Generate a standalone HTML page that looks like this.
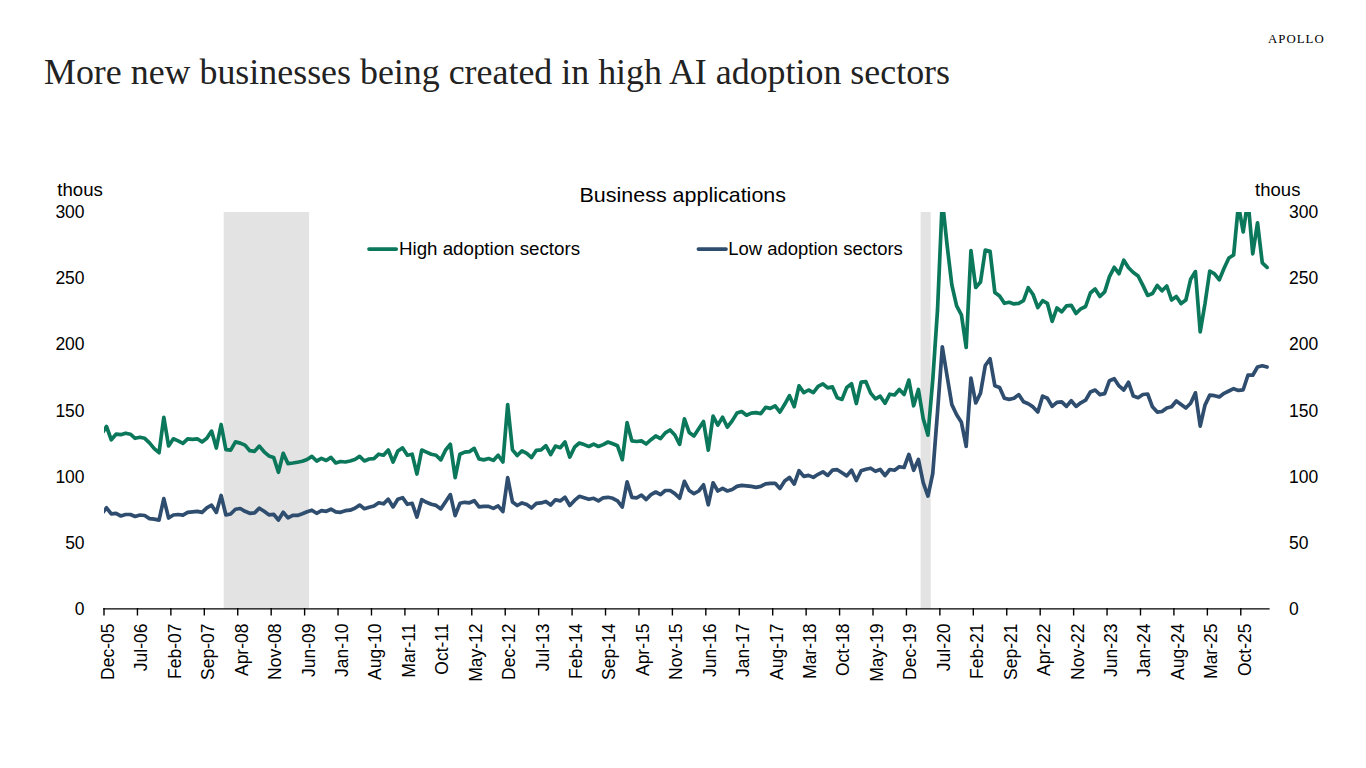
<!DOCTYPE html>
<html><head><meta charset="utf-8"><style>
html,body{margin:0;padding:0;background:#fff;width:1366px;height:768px;overflow:hidden}
svg{display:block}
.s{font-family:"Liberation Sans",sans-serif;fill:#000}
.t{font-family:"Liberation Serif",serif;fill:#000}
</style></head><body>
<svg width="1366" height="768" viewBox="0 0 1366 768">
<defs><clipPath id="c"><rect x="104" y="212" width="1166" height="397"/></clipPath></defs>
<text class="t" x="44" y="83.5" font-size="35" style="fill:#222" textLength="906" lengthAdjust="spacingAndGlyphs">More new businesses being created in high AI adoption sectors</text>
<text class="t" x="1268" y="42.7" font-size="12.8" fill="#222" textLength="55.7" lengthAdjust="spacing">APOLLO</text>
<rect x="223.7" y="212" width="85.4" height="397" fill="#e3e3e3"/>
<rect x="920.6" y="212" width="10.1" height="397" fill="#e3e3e3"/>
<g class="s" font-size="21"><text x="579.5" y="201.9" textLength="206.5" lengthAdjust="spacingAndGlyphs">Business applications</text></g>
<g class="s" font-size="17.5">
<text x="57.3" y="196.2" textLength="45.6" lengthAdjust="spacingAndGlyphs">thous</text>
<text x="1255.1" y="196.2" textLength="45.3" lengthAdjust="spacingAndGlyphs">thous</text>
<text x="399" y="255" textLength="181" lengthAdjust="spacingAndGlyphs">High adoption sectors</text>
<text x="728.3" y="255" textLength="174.5" lengthAdjust="spacingAndGlyphs">Low adoption sectors</text>
<g text-anchor="end"><text x="84.6" y="615.2">0</text><text x="84.6" y="549.0">50</text><text x="84.6" y="482.8">100</text><text x="84.6" y="416.6">150</text><text x="84.6" y="350.4">200</text><text x="84.6" y="284.2">250</text><text x="84.6" y="217.9">300</text></g>
<text x="1289" y="615.2">0</text><text x="1289" y="549.0">50</text><text x="1289" y="482.8">100</text><text x="1289" y="416.6">150</text><text x="1289" y="350.4">200</text><text x="1289" y="284.2">250</text><text x="1289" y="217.9">300</text>
<g text-anchor="end"><text transform="translate(113.90,623.5) rotate(-90)">Dec-05</text><text transform="translate(147.34,623.5) rotate(-90)">Jul-06</text><text transform="translate(180.77,623.5) rotate(-90)">Feb-07</text><text transform="translate(214.21,623.5) rotate(-90)">Sep-07</text><text transform="translate(247.64,623.5) rotate(-90)">Apr-08</text><text transform="translate(281.07,623.5) rotate(-90)">Nov-08</text><text transform="translate(314.51,623.5) rotate(-90)">Jun-09</text><text transform="translate(347.94,623.5) rotate(-90)">Jan-10</text><text transform="translate(381.38,623.5) rotate(-90)">Aug-10</text><text transform="translate(414.81,623.5) rotate(-90)">Mar-11</text><text transform="translate(448.25,623.5) rotate(-90)">Oct-11</text><text transform="translate(481.69,623.5) rotate(-90)">May-12</text><text transform="translate(515.12,623.5) rotate(-90)">Dec-12</text><text transform="translate(548.55,623.5) rotate(-90)">Jul-13</text><text transform="translate(581.99,623.5) rotate(-90)">Feb-14</text><text transform="translate(615.43,623.5) rotate(-90)">Sep-14</text><text transform="translate(648.86,623.5) rotate(-90)">Apr-15</text><text transform="translate(682.29,623.5) rotate(-90)">Nov-15</text><text transform="translate(715.73,623.5) rotate(-90)">Jun-16</text><text transform="translate(749.17,623.5) rotate(-90)">Jan-17</text><text transform="translate(782.60,623.5) rotate(-90)">Aug-17</text><text transform="translate(816.03,623.5) rotate(-90)">Mar-18</text><text transform="translate(849.47,623.5) rotate(-90)">Oct-18</text><text transform="translate(882.91,623.5) rotate(-90)">May-19</text><text transform="translate(916.34,623.5) rotate(-90)">Dec-19</text><text transform="translate(949.77,623.5) rotate(-90)">Jul-20</text><text transform="translate(983.21,623.5) rotate(-90)">Feb-21</text><text transform="translate(1016.65,623.5) rotate(-90)">Sep-21</text><text transform="translate(1050.08,623.5) rotate(-90)">Apr-22</text><text transform="translate(1083.52,623.5) rotate(-90)">Nov-22</text><text transform="translate(1116.95,623.5) rotate(-90)">Jun-23</text><text transform="translate(1150.39,623.5) rotate(-90)">Jan-24</text><text transform="translate(1183.82,623.5) rotate(-90)">Aug-24</text><text transform="translate(1217.26,623.5) rotate(-90)">Mar-25</text><text transform="translate(1250.69,623.5) rotate(-90)">Oct-25</text></g>
</g>
<line x1="369" y1="249.1" x2="396.2" y2="249.1" stroke="#0b785b" stroke-width="3.7" stroke-linecap="round"/>
<line x1="698.4" y1="249.1" x2="726" y2="249.1" stroke="#2f4d6e" stroke-width="3.7" stroke-linecap="round"/>
<g clip-path="url(#c)" fill="none" stroke-width="3.7" stroke-linejoin="round" stroke-linecap="round">
<polyline stroke="#2f4d6e" points="101.72,514.0 106.50,507.8 111.28,513.9 116.05,513.4 120.83,516.0 125.60,514.5 130.38,514.5 135.16,516.5 139.93,515.0 144.71,515.5 149.48,518.6 154.26,519.1 159.04,520.1 163.81,498.6 168.59,518.0 173.36,515.0 178.14,514.5 182.92,515.2 187.69,512.4 192.47,511.9 197.24,511.4 202.02,512.4 206.80,507.8 211.57,505.2 216.35,512.4 221.12,495.5 225.90,515.0 230.68,514.0 235.45,509.3 240.23,508.5 245.00,511.3 249.78,513.3 254.56,512.8 259.33,508.2 264.11,511.3 268.88,514.8 273.66,514.3 278.44,520.0 283.21,512.3 287.99,517.9 292.76,515.4 297.54,515.4 302.32,513.8 307.09,511.8 311.87,510.2 316.64,513.3 321.42,510.7 326.20,511.3 330.97,509.2 335.75,511.8 340.52,512.3 345.30,510.7 350.08,510.2 354.85,508.2 359.63,505.1 364.40,508.7 369.18,507.2 373.96,506.0 378.73,502.8 383.51,503.8 388.28,499.2 393.06,506.9 397.84,499.2 402.61,497.7 407.39,504.3 412.16,503.3 416.94,517.1 421.72,499.7 426.49,502.3 431.27,504.3 436.04,505.4 440.82,508.9 445.60,501.8 450.37,494.6 455.15,515.6 459.92,503.3 464.70,502.3 469.48,502.8 474.25,500.7 479.03,506.9 483.80,506.4 488.58,506.4 493.36,508.4 498.13,505.9 502.91,511.5 507.68,477.7 512.46,502.0 517.24,505.5 522.01,502.9 526.79,504.5 531.56,508.0 536.34,503.4 541.12,502.9 545.89,501.4 550.67,505.0 555.44,499.8 560.22,500.9 565.00,497.3 569.77,505.5 574.55,500.4 579.32,496.3 584.10,497.8 588.88,499.3 593.65,498.3 598.43,500.9 603.20,497.8 607.98,497.3 612.76,498.3 617.53,500.9 622.31,507.0 627.08,481.9 631.86,497.3 636.64,497.8 641.41,495.2 646.19,499.5 650.96,494.6 655.74,492.0 660.52,494.6 665.29,490.5 670.07,490.5 674.84,493.6 679.62,498.2 684.40,481.3 689.17,490.5 693.95,493.6 698.72,491.0 703.50,484.8 708.28,504.8 713.05,482.8 717.83,491.0 722.60,488.4 727.38,491.0 732.16,489.5 736.93,486.4 741.71,485.4 746.48,485.9 751.26,486.4 756.04,487.4 760.81,486.4 765.59,483.8 770.36,483.3 775.14,483.3 779.92,488.5 784.69,481.0 789.47,477.4 794.24,484.1 799.02,470.7 803.80,476.4 808.57,475.4 813.35,477.4 818.12,474.3 822.90,471.8 827.68,475.4 832.45,470.2 837.23,469.7 842.00,472.8 846.78,475.9 851.56,470.2 856.33,480.5 861.11,470.7 865.88,469.2 870.66,468.2 875.44,471.3 880.21,469.5 884.99,475.5 889.76,469.5 894.54,470.3 899.32,466.7 904.09,467.5 908.87,454.4 913.64,470.3 918.42,459.4 923.20,482.6 927.97,496.1 932.75,473.5 937.52,412.0 942.30,346.8 947.08,376.0 951.85,404.6 956.63,414.7 961.40,422.3 966.18,446.3 970.96,378.0 975.73,403.0 980.51,393.1 985.28,365.5 990.06,358.8 994.84,385.8 999.61,387.4 1004.39,398.3 1009.16,399.4 1013.94,398.3 1018.72,394.6 1023.49,401.8 1028.27,403.8 1033.04,406.9 1037.82,412.0 1042.60,396.1 1047.37,398.2 1052.15,406.4 1056.92,402.3 1061.70,401.8 1066.48,406.4 1071.25,400.7 1076.03,406.4 1080.80,402.8 1085.58,400.2 1090.36,392.0 1095.13,390.0 1099.91,394.6 1104.68,393.6 1109.46,380.7 1114.24,378.7 1119.01,385.9 1123.79,390.0 1128.56,382.3 1133.34,396.1 1138.12,397.7 1142.89,394.5 1147.67,394.0 1152.44,406.8 1157.22,412.1 1162.00,411.5 1166.77,408.0 1171.55,406.8 1176.32,401.0 1181.10,404.5 1185.88,408.0 1190.65,403.3 1195.43,392.8 1200.20,426.1 1204.98,405.1 1209.76,395.1 1214.53,395.7 1219.31,396.9 1224.08,393.3 1228.86,391.0 1233.64,388.7 1238.41,390.4 1243.19,389.8 1247.96,375.2 1252.74,375.2 1257.52,367.0 1262.29,365.8 1267.07,367.0"/>
<polyline stroke="#0b785b" points="101.72,434.0 106.50,426.5 111.28,439.8 116.05,434.2 120.83,434.7 125.60,433.2 130.38,434.2 135.16,438.3 139.93,437.3 144.71,438.3 149.48,442.9 154.26,448.6 159.04,452.7 163.81,417.3 168.59,446.0 173.36,438.8 178.14,440.9 182.92,443.4 187.69,438.8 192.47,439.3 197.24,438.8 202.02,441.9 206.80,438.3 211.57,431.1 216.35,448.0 221.12,424.5 225.90,449.6 230.68,450.1 235.45,441.9 240.23,443.1 245.00,445.1 249.78,450.7 254.56,451.3 259.33,446.1 264.11,451.8 268.88,455.9 273.66,457.4 278.44,472.3 283.21,453.3 287.99,463.6 292.76,463.0 297.54,462.2 302.32,461.3 307.09,459.5 311.87,456.4 316.64,461.0 321.42,458.4 326.20,460.5 330.97,457.4 335.75,463.0 340.52,461.5 345.30,462.0 350.08,461.0 354.85,459.5 359.63,456.4 364.40,461.0 369.18,459.0 373.96,458.6 378.73,454.2 383.51,455.2 388.28,450.0 393.06,462.0 397.84,451.0 402.61,447.9 407.39,455.2 412.16,454.2 416.94,474.0 421.72,450.0 426.49,452.1 431.27,454.2 436.04,455.2 440.82,459.9 445.60,450.0 450.37,444.3 455.15,477.6 459.92,454.2 464.70,452.1 469.48,451.6 474.25,448.4 479.03,458.9 483.80,459.9 488.58,458.5 493.36,460.4 498.13,455.2 502.91,462.0 507.68,404.7 512.46,449.9 517.24,455.5 522.01,450.8 526.79,453.4 531.56,457.6 536.34,450.3 541.12,449.8 545.89,445.6 550.67,454.5 555.44,446.1 560.22,447.7 565.00,442.0 569.77,457.1 574.55,447.2 579.32,443.0 584.10,444.6 588.88,446.5 593.65,444.1 598.43,446.5 603.20,444.6 607.98,442.0 612.76,443.8 617.53,445.8 622.31,459.7 627.08,422.7 631.86,440.9 636.64,441.5 641.41,440.9 646.19,444.0 650.96,439.7 655.74,436.0 660.52,438.6 665.29,432.9 670.07,430.0 674.84,435.0 679.62,444.4 684.40,418.9 689.17,432.4 693.95,436.0 698.72,428.8 703.50,421.5 708.28,450.1 713.05,416.2 717.83,425.1 722.60,417.3 727.38,427.2 732.16,420.9 736.93,413.1 741.71,411.6 746.48,415.2 751.26,413.1 756.04,412.6 760.81,413.6 765.59,407.4 770.36,408.4 775.14,405.8 779.92,412.1 784.69,404.3 789.47,395.7 794.24,406.7 799.02,385.8 803.80,392.6 808.57,390.0 813.35,392.6 818.12,386.4 822.90,383.8 827.68,387.9 832.45,386.9 837.23,397.8 842.00,399.4 846.78,387.4 851.56,383.8 856.33,403.5 861.11,382.2 865.88,381.7 870.66,393.1 875.44,398.9 880.21,396.2 884.99,403.3 889.76,394.2 894.54,395.0 899.32,389.5 904.09,394.5 908.87,380.1 913.64,405.8 918.42,389.5 923.20,418.5 927.97,435.2 932.75,380.0 937.52,310.0 942.30,200.0 947.08,245.0 951.85,285.0 956.63,305.9 961.40,314.8 966.18,347.5 970.96,250.6 975.73,287.5 980.51,282.0 985.28,250.0 990.06,251.2 994.84,292.5 999.61,296.0 1004.39,303.3 1009.16,302.3 1013.94,303.9 1018.72,303.3 1023.49,300.7 1028.27,287.7 1033.04,294.5 1037.82,307.5 1042.60,300.7 1047.37,303.3 1052.15,321.4 1056.92,308.0 1061.70,311.8 1066.48,305.9 1071.25,305.3 1076.03,313.5 1080.80,308.8 1085.58,306.5 1090.36,293.0 1095.13,288.9 1099.91,296.5 1104.68,291.9 1109.46,276.6 1114.24,267.3 1119.01,273.7 1123.79,260.2 1128.56,267.8 1133.34,272.5 1138.12,276.0 1142.89,285.4 1147.67,295.4 1152.44,293.6 1157.22,285.4 1162.00,290.8 1166.77,286.0 1171.55,300.0 1176.32,296.5 1181.10,303.6 1185.88,300.0 1190.65,279.2 1195.43,271.6 1200.20,331.9 1204.98,303.7 1209.76,271.0 1214.53,273.8 1219.31,279.9 1224.08,268.3 1228.86,258.0 1233.64,255.0 1238.41,205.0 1243.19,231.9 1247.96,200.0 1252.74,253.8 1257.52,222.8 1262.29,262.9 1267.07,267.4"/>
</g>
<line x1="103.3" y1="608.9" x2="1269.6" y2="608.9" stroke="#000" stroke-width="1.4"/>
<g stroke="#000" stroke-width="1.4"><line x1="104.00" y1="608" x2="104.00" y2="615.5"/><line x1="137.44" y1="608" x2="137.44" y2="615.5"/><line x1="170.87" y1="608" x2="170.87" y2="615.5"/><line x1="204.31" y1="608" x2="204.31" y2="615.5"/><line x1="237.74" y1="608" x2="237.74" y2="615.5"/><line x1="271.18" y1="608" x2="271.18" y2="615.5"/><line x1="304.61" y1="608" x2="304.61" y2="615.5"/><line x1="338.05" y1="608" x2="338.05" y2="615.5"/><line x1="371.48" y1="608" x2="371.48" y2="615.5"/><line x1="404.92" y1="608" x2="404.92" y2="615.5"/><line x1="438.35" y1="608" x2="438.35" y2="615.5"/><line x1="471.79" y1="608" x2="471.79" y2="615.5"/><line x1="505.22" y1="608" x2="505.22" y2="615.5"/><line x1="538.65" y1="608" x2="538.65" y2="615.5"/><line x1="572.09" y1="608" x2="572.09" y2="615.5"/><line x1="605.53" y1="608" x2="605.53" y2="615.5"/><line x1="638.96" y1="608" x2="638.96" y2="615.5"/><line x1="672.39" y1="608" x2="672.39" y2="615.5"/><line x1="705.83" y1="608" x2="705.83" y2="615.5"/><line x1="739.27" y1="608" x2="739.27" y2="615.5"/><line x1="772.70" y1="608" x2="772.70" y2="615.5"/><line x1="806.13" y1="608" x2="806.13" y2="615.5"/><line x1="839.57" y1="608" x2="839.57" y2="615.5"/><line x1="873.01" y1="608" x2="873.01" y2="615.5"/><line x1="906.44" y1="608" x2="906.44" y2="615.5"/><line x1="939.88" y1="608" x2="939.88" y2="615.5"/><line x1="973.31" y1="608" x2="973.31" y2="615.5"/><line x1="1006.75" y1="608" x2="1006.75" y2="615.5"/><line x1="1040.18" y1="608" x2="1040.18" y2="615.5"/><line x1="1073.62" y1="608" x2="1073.62" y2="615.5"/><line x1="1107.05" y1="608" x2="1107.05" y2="615.5"/><line x1="1140.49" y1="608" x2="1140.49" y2="615.5"/><line x1="1173.92" y1="608" x2="1173.92" y2="615.5"/><line x1="1207.36" y1="608" x2="1207.36" y2="615.5"/><line x1="1240.79" y1="608" x2="1240.79" y2="615.5"/></g>
</svg>
</body></html>
